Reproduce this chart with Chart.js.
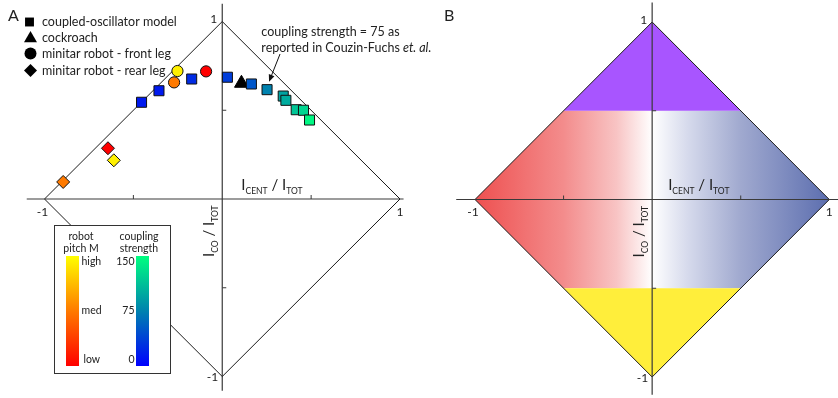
<!DOCTYPE html>
<html>
<head>
<meta charset="utf-8">
<script src="https://cdn.jsdelivr.net/npm/chart.js@4/dist/chart.umd.min.js"></script>
<style>
  html, body { margin: 0; padding: 0; background: #fff; }
  #wrap { position: relative; width: 838px; height: 398px; overflow: hidden; }
  #panelA { position: absolute; left: 0; top: 0; }
  #panelB { position: absolute; left: 440px; top: 0; }
</style>
</head>
<body>
<div id="wrap">
  <canvas id="panelA" width="440" height="398"></canvas>
  <canvas id="panelB" width="398" height="398"></canvas>
</div>
<script>
// ---------- data ----------
// Coupled-oscillator model: (I_CENT/I_TOT, I_CO/I_TOT) and coupling strength
const modelX = [-0.454, -0.356, -0.172, 0.029, 0.164, 0.252, 0.343, 0.358, 0.416, 0.457, 0.491];
const modelY = [0.545, 0.610, 0.676, 0.686, 0.648, 0.616, 0.580, 0.556, 0.503, 0.500, 0.445];
const modelCoupling = [15, 15, 25, 35, 50, 75, 95, 100, 115, 125, 145];

// Cockroach
const roachX = [0.108];
const roachY = [0.652];

// Minitar robot, front leg and rear leg, with robot pitch level
const frontX = [-0.271, -0.252, -0.091];
const frontY = [0.657, 0.721, 0.719];
const frontPitch = ['med', 'high', 'low'];
const rearX = [-0.643, -0.610, -0.895];
const rearY = [0.286, 0.218, 0.096];
const rearPitch = ['low', 'high', 'med'];

// Boundary of the feasible region
const boundaryX = [-1, 0, 1, 0, -1];
const boundaryY = [0, 1, 0, -1, 0];

// Axis ticks
const tickValues = [-1, 1];
const tickLabels = ['-1', '1'];
const minorTicks = [-0.5, 0.5];

// Colour scales
const pitchLevels = ['low', 'med', 'high'];
const pitchColors = ['#FF0000', '#FF7A00', '#FFF000'];
const couplingStops = [0, 75, 150];
const couplingRGB = [[0, 0, 255], [0, 130, 175], [0, 255, 128]];
const couplingTicks = ['0', '75', '150'];

// Panel B regions
const topRegionX = [-0.5, 0, 0.5];
const topRegionY = [0.5, 1, 0.5];
const bottomRegionX = [-0.5, 0, 0.5];
const bottomRegionY = [-0.5, -1, -0.5];
const bandUpperX = [-1, -0.5, 0.5, 1];
const bandUpperY = [0, 0.5, 0.5, 0];
const bandLowerX = [-1, -0.5, 0.5, 1];
const bandLowerY = [0, -0.5, -0.5, 0];
const bandStops = [0, 0.25, 0.4, 0.5, 0.6, 0.75, 1];
const bandColors = ['#EE5050', '#F38C8C', '#F8C4C4', '#FFFFFF', '#D6DAEC', '#A0A9CF', '#5C6EAF'];

// ---------- helpers ----------
const FONT = 'Lato, "Open Sans", sans-serif';
const pts = (xs, ys) => xs.map((x, i) => ({ x, y: ys[i] }));

function couplingColor(v) {
  let i = 0;
  while (i < couplingStops.length - 2 && v > couplingStops[i + 1]) i++;
  const t = Math.max(0, Math.min(1, (v - couplingStops[i]) / (couplingStops[i + 1] - couplingStops[i])));
  const a = couplingRGB[i], b = couplingRGB[i + 1];
  const c = a.map((ch, k) => Math.round(ch + (b[k] - ch) * t));
  return `rgb(${c[0]},${c[1]},${c[2]})`;
}
const pitchColor = p => pitchColors[pitchLevels.indexOf(p)];

function drawAxes(chart, ext) {
  const { ctx } = chart;
  const xs = chart.scales.x, ys = chart.scales.y;
  const x0 = xs.getPixelForValue(0), y0 = ys.getPixelForValue(0);
  ctx.save();
  ctx.strokeStyle = '#3a3a3a';
  ctx.lineWidth = 1.2;
  ctx.beginPath();
  ctx.moveTo(xs.getPixelForValue(ext.xFrom), y0);
  ctx.lineTo(xs.getPixelForValue(ext.xTo), y0);
  ctx.moveTo(x0, ys.getPixelForValue(ext.yFrom));
  ctx.lineTo(x0, ys.getPixelForValue(ext.yTo));
  ctx.stroke();
  ctx.lineWidth = 1;
  ctx.beginPath();
  minorTicks.forEach(v => {
    const px = xs.getPixelForValue(v);
    ctx.moveTo(px, y0); ctx.lineTo(px, y0 - 4);
    const py = ys.getPixelForValue(v);
    ctx.moveTo(x0, py); ctx.lineTo(x0 + 4, py);
  });
  ctx.stroke();
  ctx.restore();
}

function drawTickLabels(chart) {
  const { ctx } = chart;
  const xs = chart.scales.x, ys = chart.scales.y;
  const x0 = xs.getPixelForValue(0), y0 = ys.getPixelForValue(0);
  ctx.save();
  ctx.fillStyle = '#222';
  ctx.font = '12px ' + FONT;
  ctx.textBaseline = 'middle';
  ctx.textAlign = 'center';
  tickValues.forEach((v, i) => {
    const lbl = tickLabels[i];
    ctx.fillText(lbl, xs.getPixelForValue(v) - (v < 0 ? 2 : 0), y0 + 13);
  });
  ctx.textAlign = 'right';
  tickValues.forEach((v, i) => {
    const lbl = tickLabels[i];
    ctx.fillText(lbl, x0 - (v < 0 ? 4 : 5), ys.getPixelForValue(v) + (v < 0 ? 1 : -2));
  });
  ctx.restore();
}

function drawSubText(ctx, pieces, x, y) {
  let cx = x;
  pieces.forEach(([txt, sub]) => {
    ctx.font = (sub ? '8.5px ' : '15px ') + FONT;
    ctx.fillText(txt, cx, sub ? y + 4 : y);
    cx += ctx.measureText(txt).width;
  });
}

function drawAxisTitles(chart, xOffset) {
  const { ctx } = chart;
  const xs = chart.scales.x, ys = chart.scales.y;
  const x0 = xs.getPixelForValue(0), y0 = ys.getPixelForValue(0);
  ctx.save();
  ctx.fillStyle = '#222';
  ctx.textBaseline = 'alphabetic';
  ctx.textAlign = 'left';
  drawSubText(ctx, [['I', 0], ['CENT', 1], [' / ', 0], ['I', 0], ['TOT', 1]], x0 + xOffset, y0 - 9.5);
  ctx.translate(x0 - 8, y0 + 58);
  ctx.rotate(-Math.PI / 2);
  drawSubText(ctx, [['I', 0], ['CO', 1], [' / ', 0], ['I', 0], ['TOT', 1]], 0, 0);
  ctx.restore();
}

function drawLetter(chart, letter, x, y) {
  const { ctx } = chart;
  ctx.save();
  ctx.fillStyle = '#222';
  ctx.font = '16px ' + FONT;
  ctx.textBaseline = 'alphabetic';
  ctx.textAlign = 'left';
  ctx.fillText(letter, x, y);
  ctx.restore();
}

function markerShape(ctx, style, radius, x, y) {
  if (Chart.helpers && Chart.helpers.drawPoint) {
    Chart.helpers.drawPoint(ctx, { pointStyle: style, radius, rotation: 0, borderWidth: 0 }, x, y);
  }
}

// Legend of marker shapes
const legendStyles = ['rect', 'triangle', 'circle', 'rectRot'];
const legendRadii = [6.3, 7.5, 6, 6.5];
const legendLabels = ['coupled-oscillator model', 'cockroach', 'minitar robot - front leg', 'minitar robot - rear leg'];

function drawShapeLegend(chart) {
  const { ctx } = chart;
  const rows = [22, 37.5, 53.5, 70.5];
  ctx.save();
  ctx.fillStyle = '#000';
  ctx.strokeStyle = '#000';
  legendStyles.forEach((s, i) => markerShape(ctx, s, legendRadii[i], i === 0 ? 29.5 : 30.5, rows[i] + (s === 'triangle' ? 1 : 0)));
  ctx.fillStyle = '#222';
  ctx.font = '12.5px ' + FONT;
  ctx.textBaseline = 'middle';
  ctx.textAlign = 'left';
  legendLabels.forEach((t, i) => ctx.fillText(t, 42, rows[i]));
  ctx.restore();
}

function drawColorbarBox(chart) {
  const { ctx } = chart;
  ctx.save();
  ctx.fillStyle = '#fff';
  ctx.strokeStyle = '#333';
  ctx.lineWidth = 1;
  ctx.fillRect(54.5, 225.5, 116, 148);
  ctx.strokeRect(54.5, 225.5, 116, 148);

  const top = 256, bottom = 366;
  // robot pitch
  let g = ctx.createLinearGradient(0, bottom, 0, top);
  pitchColors.forEach((c, i) => g.addColorStop(i / (pitchColors.length - 1), c === '#FFF000' ? '#FFFF00' : c));
  ctx.fillStyle = g;
  ctx.fillRect(66, top, 13, bottom - top);
  // coupling strength
  g = ctx.createLinearGradient(0, bottom, 0, top);
  couplingStops.forEach((s, i) => g.addColorStop(s / 150, couplingColor(s)));
  ctx.fillStyle = g;
  ctx.fillRect(136, top, 13, bottom - top);

  ctx.fillStyle = '#222';
  ctx.font = '10.5px ' + FONT;
  ctx.textBaseline = 'middle';
  ctx.textAlign = 'center';
  ctx.fillText('robot', 81, 237);
  ctx.fillText('pitch M', 81, 248.5);
  ctx.fillText('coupling', 139, 237);
  ctx.fillText('strength', 139, 248.5);
  const levelY = [360, 311, 262];
  ctx.textAlign = 'left';
  pitchLevels.forEach((p, i) => ctx.fillText(p, i === 0 ? 83.5 : 81.5, levelY[i]));
  ctx.textAlign = 'right';
  couplingTicks.forEach((t, i) => ctx.fillText(t, 134.5, levelY[i]));
  ctx.restore();
}

function drawNote(chart) {
  const { ctx } = chart;
  const xs = chart.scales.x, ys = chart.scales.y;
  ctx.save();
  ctx.fillStyle = '#222';
  ctx.font = '12.5px ' + FONT;
  ctx.textBaseline = 'alphabetic';
  ctx.textAlign = 'left';
  const tx = xs.getPixelForValue(0.22);
  ctx.fillText('coupling strength = 75 as', tx, 36);
  const first = 'reported in Couzin-Fuchs ';
  ctx.fillText(first, tx, 51.5);
  const w = ctx.measureText(first).width;
  ctx.font = 'italic 12.5px ' + FONT;
  ctx.fillText('et. al.', tx + w, 51.5);

  // arrow to the square with coupling strength 75
  const i75 = modelCoupling.indexOf(75);
  const ex = xs.getPixelForValue(modelX[i75]) + 2, ey = ys.getPixelForValue(modelY[i75]) - 8;
  const sx = ex + 11, sy = 54;
  const ang = Math.atan2(ey - sy, ex - sx);
  ctx.strokeStyle = '#111';
  ctx.lineWidth = 1;
  ctx.beginPath();
  ctx.moveTo(sx, sy);
  ctx.lineTo(ex - 5 * Math.cos(ang), ey - 5 * Math.sin(ang));
  ctx.stroke();
  ctx.fillStyle = '#111';
  ctx.beginPath();
  ctx.moveTo(ex, ey);
  ctx.lineTo(ex - 7 * Math.cos(ang) + 3 * Math.sin(ang), ey - 7 * Math.sin(ang) - 3 * Math.cos(ang));
  ctx.lineTo(ex - 7 * Math.cos(ang) - 3 * Math.sin(ang), ey - 7 * Math.sin(ang) + 3 * Math.cos(ang));
  ctx.closePath();
  ctx.fill();
  ctx.restore();
}

const baseScales = {
  x: { type: 'linear', min: -1, max: 1, display: false },
  y: { type: 'linear', min: -1, max: 1, display: false }
};

// ---------- panel A ----------
const panelAPlugin = {
  id: 'panelADecor',
  beforeDatasetsDraw(chart) {
    drawAxes(chart, { xFrom: -1.1, xTo: 1.02, yFrom: -1.08, yTo: 1.1 });
  },
  afterDatasetsDraw(chart) {
    drawColorbarBox(chart);
    drawTickLabels(chart);
    drawAxisTitles(chart, 19);
    drawShapeLegend(chart);
    drawNote(chart);
    drawLetter(chart, 'A', 8, 21);
  }
};

new Chart(document.getElementById('panelA'), {
  type: 'line',
  data: {
    datasets: [
      {
        label: 'coupled-oscillator model',
        data: pts(modelX, modelY),
        showLine: false,
        pointStyle: 'rect',
        pointRadius: 7.1,
        pointBackgroundColor: modelCoupling.map(couplingColor),
        pointBorderColor: '#111',
        pointBorderWidth: 1,
        order: 1
      },
      {
        label: 'minitar robot - rear leg',
        data: pts(rearX, rearY),
        showLine: false,
        pointStyle: 'rectRot',
        pointRadius: 6.5,
        pointBackgroundColor: rearPitch.map(pitchColor),
        pointBorderColor: '#111',
        pointBorderWidth: 1,
        order: 2
      },
      {
        label: 'minitar robot - front leg',
        data: pts(frontX, frontY),
        showLine: false,
        pointStyle: 'circle',
        pointRadius: 5.6,
        pointBackgroundColor: frontPitch.map(pitchColor),
        pointBorderColor: '#111',
        pointBorderWidth: 1,
        order: 3
      },
      {
        label: 'cockroach',
        data: pts(roachX, roachY),
        showLine: false,
        pointStyle: 'triangle',
        pointRadius: 8,
        pointBackgroundColor: '#000',
        pointBorderColor: '#000',
        pointBorderWidth: 1,
        order: 4
      },
      {
        label: 'boundary',
        data: pts(boundaryX, boundaryY),
        showLine: true,
        borderColor: '#1a1a1a',
        borderWidth: 1,
        pointRadius: 0,
        fill: false,
        tension: 0,
        order: 10
      }
    ]
  },
  options: {
    responsive: false,
    animation: false,
    devicePixelRatio: 1,
    events: [],
    layout: { padding: { left: 44.5, right: 40, top: 21.5, bottom: 21.5 } },
    scales: baseScales,
    plugins: { legend: { display: false }, tooltip: { enabled: false } },
    elements: { line: { clip: false } },
    datasets: { line: { clip: false } }
  },
  plugins: [panelAPlugin]
});

// ---------- panel B ----------
function bandGradient(context) {
  const chart = context.chart;
  const xs = chart.scales && chart.scales.x;
  if (!xs || !chart.chartArea) return 'rgba(0,0,0,0)';
  const g = chart.ctx.createLinearGradient(xs.getPixelForValue(-1), 0, xs.getPixelForValue(1), 0);
  bandStops.forEach((s, i) => g.addColorStop(s, bandColors[i]));
  return g;
}

const panelBPlugin = {
  id: 'panelBDecor',
  afterDatasetsDraw(chart) {
    drawAxes(chart, { xFrom: -1.106, xTo: 1.06, yFrom: -1.1, yTo: 1.11 });
    drawTickLabels(chart);
    drawAxisTitles(chart, 16);
    drawLetter(chart, 'B', 4, 21);
  }
};

new Chart(document.getElementById('panelB'), {
  type: 'line',
  data: {
    datasets: [
      {
        label: 'boundary',
        data: pts(boundaryX, boundaryY),
        borderColor: '#1a1a1a',
        borderWidth: 1,
        pointRadius: 0,
        fill: false,
        order: 1
      },
      {
        label: 'upper',
        data: pts(topRegionX, topRegionY),
        borderWidth: 0,
        borderColor: 'rgba(0,0,0,0)',
        pointRadius: 0,
        backgroundColor: '#A855FF',
        fill: { value: 0.5 },
        order: 5
      },
      {
        label: 'lower',
        data: pts(bottomRegionX, bottomRegionY),
        borderWidth: 0,
        borderColor: 'rgba(0,0,0,0)',
        pointRadius: 0,
        backgroundColor: '#FFEE3B',
        fill: { value: -0.5 },
        order: 5
      },
      {
        label: 'band upper',
        data: pts(bandUpperX, bandUpperY),
        borderWidth: 0,
        borderColor: 'rgba(0,0,0,0)',
        pointRadius: 0,
        backgroundColor: bandGradient,
        fill: 'origin',
        order: 6
      },
      {
        label: 'band lower',
        data: pts(bandLowerX, bandLowerY),
        borderWidth: 0,
        borderColor: 'rgba(0,0,0,0)',
        pointRadius: 0,
        backgroundColor: bandGradient,
        fill: 'origin',
        order: 6
      }
    ]
  },
  options: {
    responsive: false,
    animation: false,
    devicePixelRatio: 1,
    events: [],
    layout: { padding: { left: 35, right: 8.7, top: 22, bottom: 21 } },
    scales: baseScales,
    plugins: { legend: { display: false }, tooltip: { enabled: false }, filler: { propagate: false } }
  },
  plugins: [panelBPlugin]
});
</script>
</body>
</html>
